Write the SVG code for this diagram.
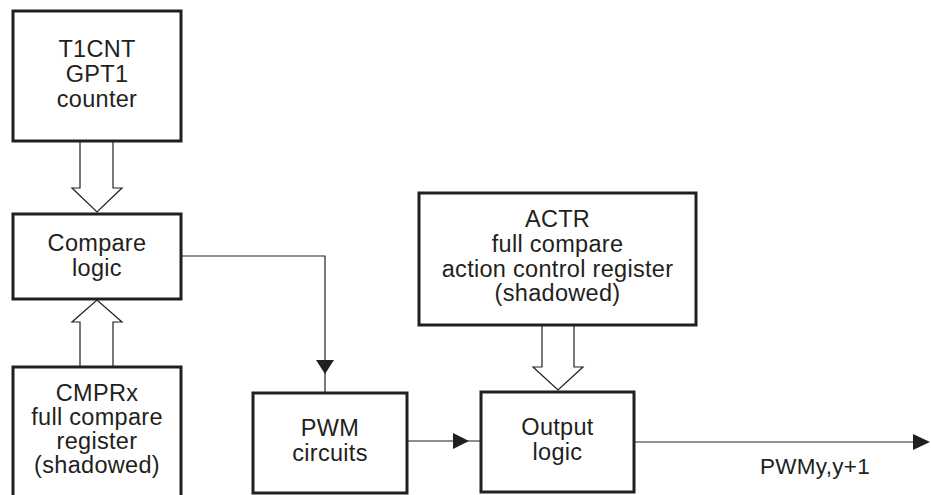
<svg xmlns="http://www.w3.org/2000/svg" width="931" height="495" viewBox="0 0 931 495">
<style>
.box{fill:#fff;stroke:#231f20;stroke-width:3}
.t{font-family:"Liberation Sans",Arial,sans-serif;font-size:23.5px;letter-spacing:0.3px;fill:#231f20;text-anchor:middle}
.ln{fill:none;stroke:#231f20;stroke-width:1.2}
.hol{fill:#fff;stroke:#231f20;stroke-width:1.2}
.ah{fill:#231f20;stroke:none}
</style>
<rect width="931" height="495" fill="#fff"/>
<g id="connectors">
<path class="hol" d="M80,142 V188 H72 L97,212 L122,188 H113 V142"/>
<path class="hol" d="M80,366 V322 H72 L97,300 L122,322 H113 V366"/>
<path class="hol" d="M542,326 V367 H533 L558,390 L583,367 H574 V326"/>
<path class="ln" d="M182,256 H325 V392"/>
<polygon class="ah" points="316,360 334,360 325,374"/>
<path class="ln" d="M408,441 H480"/>
<polygon class="ah" points="453,433 453,449 469,441"/>
<path class="ln" d="M635,442 H915"/>
<polygon class="ah" points="913,434 913,450 930,442"/>
<text class="t" x="815" y="474" style="font-size:22.5px">PWMy,y+1</text>
</g>
<g id="t1cnt">
<rect class="box" x="13" y="11" width="168" height="130"/>
<text class="t" x="97" y="57">T1CNT</text>
<text class="t" x="97" y="82">GPT1</text>
<text class="t" x="97" y="107">counter</text>
</g>
<g id="compare">
<rect class="box" x="13" y="214" width="168" height="85"/>
<text class="t" x="97" y="251">Compare</text>
<text class="t" x="97" y="276">logic</text>
</g>
<g id="cmprx">
<rect class="box" x="13" y="367" width="168" height="140"/>
<text class="t" x="97" y="401">CMPRx</text>
<text class="t" x="97" y="425">full compare</text>
<text class="t" x="97" y="449">register</text>
<text class="t" x="97" y="473">(shadowed)</text>
</g>
<g id="actr">
<rect class="box" x="419" y="193" width="277" height="132"/>
<text class="t" x="557.5" y="227">ACTR</text>
<text class="t" x="557.5" y="252">full compare</text>
<text class="t" x="557.5" y="277">action control register</text>
<text class="t" x="557.5" y="301">(shadowed)</text>
</g>
<g id="pwm">
<rect class="box" x="253" y="393" width="154" height="100"/>
<text class="t" x="330" y="436">PWM</text>
<text class="t" x="330" y="461">circuits</text>
</g>
<g id="output">
<rect class="box" x="481" y="392" width="153" height="100"/>
<text class="t" x="557.5" y="435">Output</text>
<text class="t" x="557.5" y="460">logic</text>
</g>
</svg>
